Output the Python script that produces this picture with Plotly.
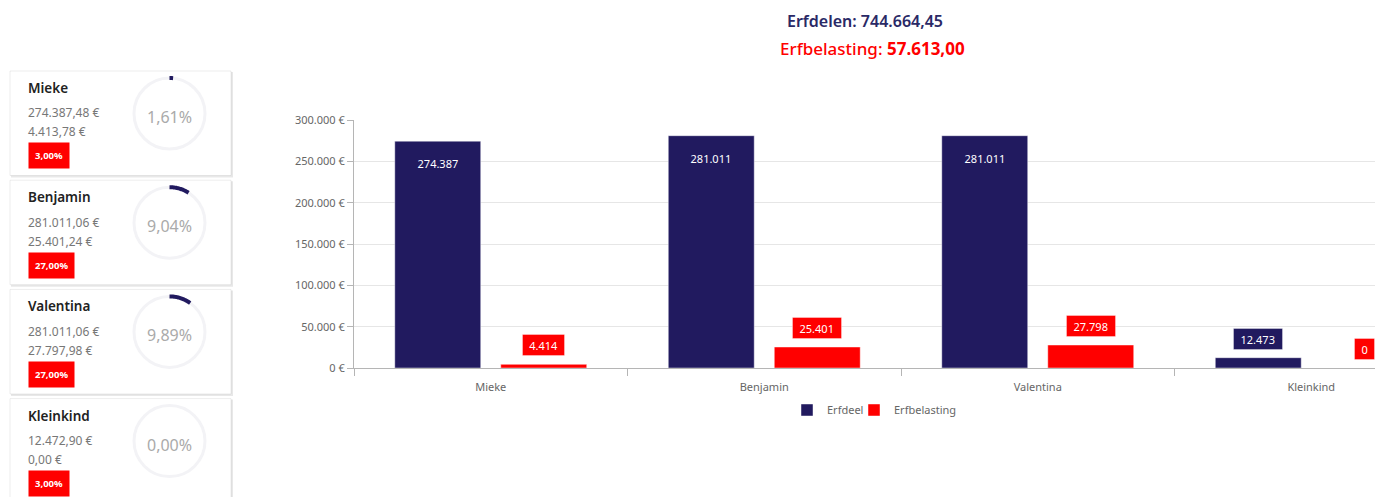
import math
import plotly.graph_objects as go

# ---------------- data ----------------
categories = ["Mieke", "Benjamin", "Valentina", "Kleinkind"]
erfdeel = [274387.48, 281011.06, 281011.06, 12472.90]
erfbelasting = [4413.78, 25401.24, 27797.98, 0.00]
tarief = [3.00, 27.00, 27.00, 3.00]
total_erfdelen = 744664.45
y_ticks = [0, 50000, 100000, 150000, 200000, 250000, 300000]

# ---------------- style ----------------
W, H = 1383, 497
OFF = 8  # page body margin
NAVY = "#211a5f"
RED = "#ff0000"
FONT = "Noto Sans"


def px(x):
    return (x - OFF) / W


def py(y):
    return 1 - (y - OFF) / H


def nl(v, dec=2):
    s = f"{v:,.{dec}f}"
    return s.replace(",", "X").replace(".", ",").replace("X", ".")


def label_width(s):
    # approximate box width for an 11px label with ~7px side padding
    return sum(3.0 if c in ".," else 6.3 for c in s) + 13


total_belasting = sum(erfbelasting)

fig = go.Figure()
fig.add_trace(go.Bar(
    x=categories, y=erfdeel, name="Erfdeel", legend="legend",
    marker=dict(color=NAVY, line=dict(color="rgba(255,255,255,0.45)", width=1)),
    hoverinfo="skip",
))
fig.add_trace(go.Bar(
    x=categories, y=erfbelasting, name="Erfbelasting", legend="legend2",
    marker=dict(color=RED, line=dict(color="rgba(255,255,255,0.45)", width=1)),
    hoverinfo="skip",
))

annotations = []
shapes = []

# data labels
offset = 53
for series, color, sign in ((erfdeel, NAVY, -1), (erfbelasting, RED, 1)):
    for cat, v in zip(categories, series):
        inside = v > 30000
        txt = nl(v, 0)
        annotations.append(dict(
            x=cat, y=v, xref="x", yref="y", xshift=sign * offset,
            yshift=-11 if inside else 8,
            yanchor="top" if inside else "bottom", xanchor="center",
            text=txt, showarrow=False, align="center", valign="middle",
            width=label_width(txt), height=20,
            font=dict(family=FONT, size=11, color="white"),
            bgcolor=color, borderpad=0,
            bordercolor="rgba(255,255,255,0.35)" if not inside else color,
            borderwidth=1,
        ))

# titles
annotations.append(dict(
    x=px(865), y=py(21), xref="paper", yref="paper", xanchor="center", yanchor="middle",
    text=f"Erfdelen: {nl(total_erfdelen)}", showarrow=False,
    font=dict(family=FONT, size=16, color="#2a2966", weight=600),
))
annotations.append(dict(
    x=px(872), y=py(49), xref="paper", yref="paper", xanchor="center", yanchor="middle",
    text=f"Erfbelasting: <b>{nl(total_belasting)}</b>", showarrow=False,
    font=dict(family=FONT, size=17, color=RED, weight=500),
))

# cards
for i, name in enumerate(categories):
    top = 71 + i * 109.2
    bottom = top + 104.5
    left, right = 10, 231
    shapes.append(dict(type="rect", xref="paper", yref="paper",
                       x0=px(left + 1), x1=px(right + 2), y0=py(bottom + 2), y1=py(top + 1),
                       fillcolor="rgba(0,0,0,0.09)", line=dict(width=0), layer="below"))
    shapes.append(dict(type="rect", xref="paper", yref="paper",
                       x0=px(left), x1=px(right), y0=py(bottom), y1=py(top),
                       fillcolor="white", line=dict(color="rgba(0,0,0,0.07)", width=1), layer="below"))
    annotations.append(dict(
        x=px(27), y=py(top + 17), xref="paper", yref="paper", xanchor="left", yanchor="middle",
        text=name, showarrow=False, borderpad=0,
        font=dict(family=FONT, size=13.5, color="#222222", weight=600)))
    annotations.append(dict(
        x=px(27), y=py(top + 42), xref="paper", yref="paper", xanchor="left", yanchor="middle",
        text=f"{nl(erfdeel[i])} €", showarrow=False, borderpad=0,
        font=dict(family=FONT, size=12, color="#777777")))
    annotations.append(dict(
        x=px(27), y=py(top + 61), xref="paper", yref="paper", xanchor="left", yanchor="middle",
        text=f"{nl(erfbelasting[i])} €", showarrow=False, borderpad=0,
        font=dict(family=FONT, size=12, color="#777777")))
    annotations.append(dict(
        x=px(28), y=py(top + 85), xref="paper", yref="paper", xanchor="left", yanchor="middle",
        text=f"<b>{nl(tarief[i])}%</b>", showarrow=False, bgcolor=RED, borderpad=6,
        font=dict(family=FONT, size=9.5, color="white")))
    # donut
    cx, cy, r = 169.5, top + 42.5, 35.5
    shapes.append(dict(type="circle", xref="paper", yref="paper",
                       x0=px(cx - r), x1=px(cx + r), y0=py(cy + r), y1=py(cy - r),
                       line=dict(color="#f3f3f6", width=3)))
    pct = erfbelasting[i] / erfdeel[i] if erfdeel[i] else 0
    if pct > 0:
        n = 30
        pts = []
        for k in range(n + 1):
            th = 2 * math.pi * pct * k / n
            pts.append((px(cx + r * math.sin(th)), py(cy - r * math.cos(th))))
        path = "M " + " L ".join(f"{a:.6f},{b:.6f}" for a, b in pts)
        shapes.append(dict(type="path", xref="paper", yref="paper", path=path,
                           line=dict(color=NAVY, width=4)))
    annotations.append(dict(
        x=px(cx), y=py(top + 46), xref="paper", yref="paper", xanchor="center", yanchor="middle",
        text=f"{nl(pct * 100)}%", showarrow=False, font=dict(family=FONT, size=16, color="#aaaaaa")))

cat_w = 273.5
x_left = 354
legend_style = dict(orientation="h", xanchor="left", y=py(410), yanchor="middle",
                    font=dict(family=FONT, size=11, color="#666666"), itemwidth=30,
                    bgcolor="rgba(0,0,0,0)")
fig.update_layout(
    width=W, height=H,
    margin=dict(l=0, r=0, t=0, b=0, autoexpand=False),
    paper_bgcolor="white", plot_bgcolor="white",
    separators=",.",
    font=dict(family=FONT, color="#666666"),
    barmode="group", bargap=0.225, bargroupgap=0.189,
    showlegend=True,
    legend=dict(x=px(787), **legend_style),
    legend2=dict(x=px(854), **legend_style),
    xaxis=dict(domain=[px(x_left), 1], range=[-0.5, -0.5 + (W + OFF - x_left) / cat_w],
               automargin=False,
               showgrid=False, showline=True, linecolor="#b5b5b5", linewidth=1,
               ticks="outside", tickson="boundaries", ticklen=7, tickcolor="#b5b5b5",
               ticklabelstandoff=9,
               tickfont=dict(family=FONT, size=11, color="#666666"), fixedrange=True),
    yaxis=dict(domain=[py(368), py(120)], range=[0, 300000],
               tickmode="array", tickvals=y_ticks,
               ticktext=[f"{nl(v, 0)} €" for v in y_ticks],
               automargin=False,
               showgrid=True, gridcolor="#e6e6e6", zeroline=False,
               showline=True, linecolor="#b5b5b5", linewidth=1,
               ticks="outside", ticklen=6, tickcolor="#b5b5b5",
               tickfont=dict(family=FONT, size=11, color="#666666"), fixedrange=True),
    annotations=annotations,
    shapes=shapes,
)

fig.write_html("out.html")
